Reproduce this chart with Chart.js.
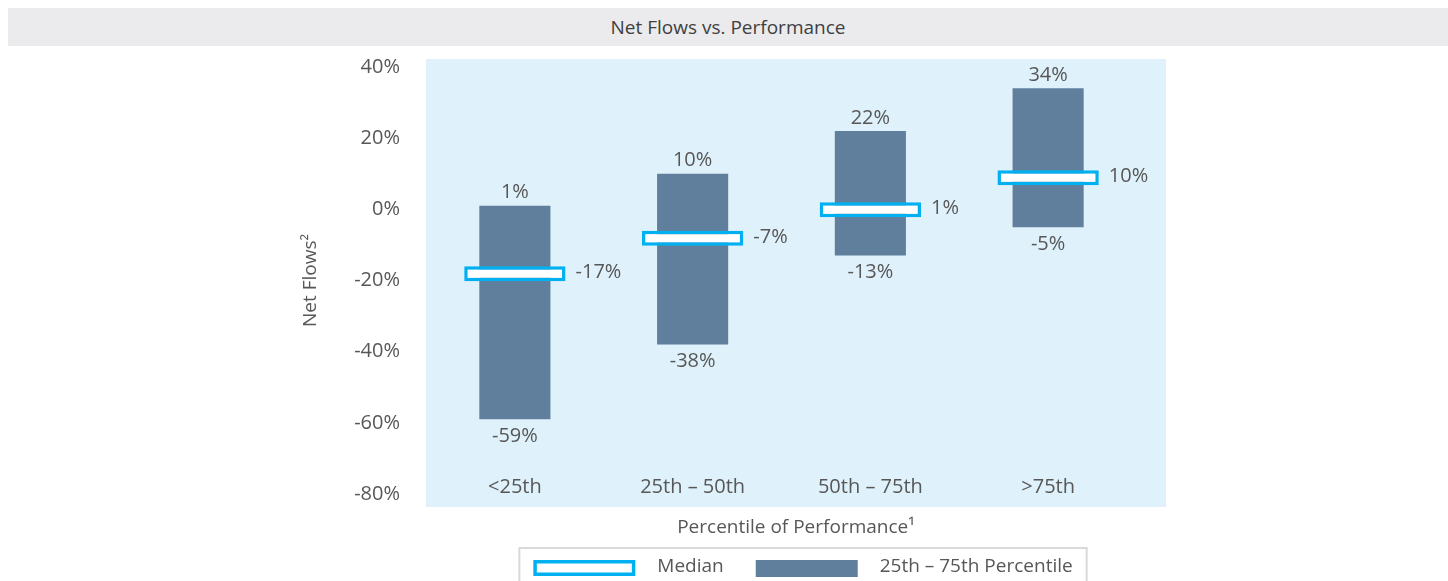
<!DOCTYPE html>
<html>
<head>
<meta charset="utf-8">
<script src="https://cdn.jsdelivr.net/npm/chart.js@4.4.0/dist/chart.umd.min.js"></script>
<style>
  html, body { margin: 0; padding: 0; background: #fff; }
  #wrap { position: relative; width: 1448px; height: 581px; overflow: hidden; }
  #titleBar {
    position: absolute; left: 8px; right: 0; top: 8px; height: 38px;
    background: #ebebed; color: #404040; text-align: center;
    font: 19px 'Open Sans', sans-serif; line-height: 38px;
  }
  canvas { position: absolute; left: 0; top: 0; }
</style>
</head>
<body>
<div id="wrap">
  <canvas id="flowsChart" width="1448" height="581"></canvas>
  <div id="titleBar">Net Flows vs. Performance</div>
</div>
<script>
const categories = ['<25th', '25th – 50th', '50th – 75th', '>75th'];
const lowValues = [-59, -38, -13, -5];
const highValues = [1, 10, 22, 34];
const medianValues = [-17, -7, 1, 10];
const yTicks = [-80, -60, -40, -20, 0, 20, 40];

const FONT = "'Open Sans', sans-serif";
const TEXT = '#575757';
const CYAN = '#00b0f0';
const BAR = '#607f9d';

Chart.defaults.font.family = FONT;

// light blue panel behind the bars
const panelPlugin = {
  id: 'panelPlugin',
  beforeDraw(chart) {
    const a = chart.chartArea;
    const ctx = chart.ctx;
    ctx.save();
    ctx.fillStyle = '#dff1fa';
    ctx.fillRect(a.left, a.top - 8, a.right - a.left + 29, a.bottom - a.top + 21);
    ctx.restore();
  }
};

// value labels, category labels, x title and the legend
const labelsPlugin = {
  id: 'labelsPlugin',
  afterDatasetsDraw(chart) {
    const ctx = chart.ctx;
    const x = chart.scales.x;
    const y = chart.scales.y;
    const a = chart.chartArea;
    const medMeta = chart.getDatasetMeta(0);
    ctx.save();
    ctx.fillStyle = TEXT;
    ctx.font = '20px ' + FONT;
    ctx.textBaseline = 'middle';

    categories.forEach((c, i) => {
      const cx = x.getPixelForValue(i);
      ctx.textAlign = 'center';
      ctx.fillText(highValues[i] + '%', cx, y.getPixelForValue(highValues[i]) - 13);
      ctx.fillText(lowValues[i] + '%', cx, y.getPixelForValue(lowValues[i]) + 17);
      ctx.fillText(c, cx, a.bottom - 7);

      const box = medMeta.data[i];
      ctx.textAlign = 'left';
      ctx.fillText(medianValues[i] + '%', box.x + box.width / 2 + 10, (box.y + box.base) / 2 - 1);
    });

    // x axis title
    const panelMid = (a.left + a.right + 29) / 2;
    ctx.textAlign = 'center';
    ctx.font = '19px ' + FONT;
    ctx.fillText('Percentile of Performance¹', panelMid, a.bottom + 34);

    // legend
    const ds = chart.data.datasets;
    const iconW = 102, iconH = 16, gap = 22, itemGap = 32;
    const w0 = ctx.measureText(ds[0].label).width;
    const w1 = ctx.measureText(ds[1].label).width;
    const total = iconW + gap + w0 + itemGap + iconW + gap + w1;
    const lx = panelMid + 7 - total / 2;
    const top = a.bottom + 54;
    const midY = top + 20;

    ctx.strokeStyle = '#d9d9d9';
    ctx.lineWidth = 2;
    ctx.strokeRect(lx - 14, top, total + 28, 60);

    ctx.fillStyle = CYAN;
    ctx.fillRect(lx, midY - iconH / 2, iconW, iconH);
    ctx.fillStyle = '#ffffff';
    ctx.fillRect(lx + 3.5, midY - iconH / 2 + 3.5, iconW - 7, iconH - 7);
    ctx.fillStyle = TEXT;
    ctx.textAlign = 'left';
    ctx.fillText(ds[0].label, lx + iconW + gap, midY - 1);

    const x2 = lx + iconW + gap + w0 + itemGap;
    ctx.fillStyle = BAR;
    ctx.fillRect(x2, midY - iconH / 2, iconW, iconH + 1);
    ctx.fillStyle = TEXT;
    ctx.fillText(ds[1].label, x2 + iconW + gap, midY - 1);
    ctx.restore();
  }
};

const ctx = document.getElementById('flowsChart').getContext('2d');

new Chart(ctx, {
  type: 'bar',
  data: {
    labels: categories,
    datasets: [
      {
        label: 'Median',
        data: medianValues.map(m => [m - 3.2, m + 1.0]),
        backgroundColor: '#ffffff',
        borderColor: CYAN,
        borderWidth: 3.5,
        borderSkipped: false,
        barPercentage: 0.57,
        categoryPercentage: 1,
        grouped: false,
        order: 0
      },
      {
        label: '25th – 75th Percentile',
        data: lowValues.map((v, i) => [v, highValues[i]]),
        backgroundColor: BAR,
        borderWidth: 0,
        barPercentage: 0.40,
        categoryPercentage: 1,
        grouped: false,
        order: 1
      }
    ]
  },
  options: {
    responsive: false,
    animation: false,
    layout: {
      padding: { left: 299, right: 311, top: 67, bottom: 87 }
    },
    scales: {
      x: {
        display: false,
        offset: true
      },
      y: {
        min: -80,
        max: 40,
        afterBuildTicks: function (scale) {
          scale.ticks = yTicks.map(v => ({ value: v }));
        },
        afterFit: function (scale) {
          scale.width = 127;
        },
        grid: { display: false, drawTicks: false },
        border: { display: false },
        ticks: {
          padding: 26,
          color: TEXT,
          font: { size: 20 },
          callback: function (value) {
            return value + '%';
          }
        },
        title: {
          display: true,
          text: 'Net Flows²',
          color: TEXT,
          font: { size: 19 },
          padding: 0
        }
      }
    },
    plugins: {
      legend: { display: false },
      tooltip: { enabled: false }
    }
  },
  plugins: [panelPlugin, labelsPlugin]
});
</script>
</body>
</html>
